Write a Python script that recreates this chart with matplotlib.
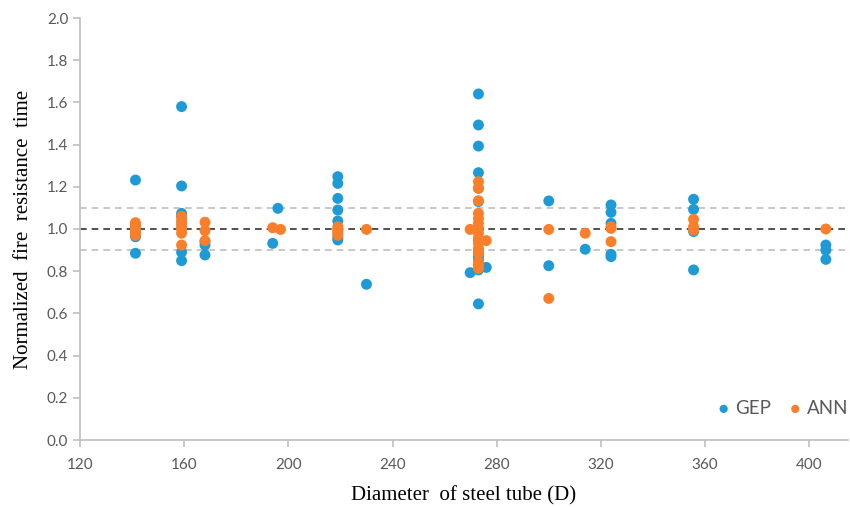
import matplotlib
matplotlib.use("Agg")
import matplotlib.pyplot as plt

# ---- data ----
gep_d = [141.3]*4 + [159]*6 + [168]*3 + [194, 196] + [219]*7 + [230, 269.8] + [273]*13 + [276] + [300]*2 + [314] + [323.9]*5 + [355.6]*4 + [406.4]*3
gep_r = [1.232, 0.885, 0.963, 0.975,
         1.58, 1.204, 1.074, 0.89, 0.85, 1.06,
         0.924, 0.877, 0.94,
         0.932, 1.098,
         1.248, 1.216, 1.145, 1.09, 1.038, 0.96, 0.948,
         0.738, 0.793,
         1.64, 1.493, 1.393, 1.267, 1.193, 1.13, 0.872, 0.855, 0.806, 0.645, 1.0, 0.95, 0.9,
         0.818,
         1.133, 0.826,
         0.904,
         1.114, 1.079, 1.027, 0.869, 0.88,
         1.141, 1.093, 0.988, 0.806,
         0.924, 0.9, 0.856]

ann_d = [141.3]*7 + [159]*7 + [168]*3 + [194, 197] + [219]*5 + [230, 269.8] + [273]*15 + [276] + [300]*2 + [314] + [323.9]*3 + [355.6]*3 + [406.4]
ann_r = [1.03, 1.02, 1.01, 1.0, 0.99, 0.98, 0.97,
         1.06, 1.04, 1.027, 1.01, 1.0, 0.98, 0.924,
         1.032, 0.992, 0.945,
         1.006, 0.998,
         1.01, 1.0, 0.99, 0.98, 0.97,
         0.998, 0.998,
         1.224, 1.193, 1.134, 1.074, 1.05, 1.027, 1.003, 0.98, 0.956, 0.932, 0.908, 0.885, 0.845, 0.829, 0.813,
         0.945,
         0.998, 0.671,
         0.98,
         1.003, 0.94, 1.01,
         1.046, 1.011, 0.995,
         1.0]

x_ticks = [120, 160, 200, 240, 280, 320, 360, 400]
y_ticks = [0.0, 0.2, 0.4, 0.6, 0.8, 1.0, 1.2, 1.4, 1.6, 1.8, 2.0]
ref_lines = [1.1, 1.0, 0.9]

# ---- figure ----
fig = plt.figure(figsize=(8.5, 5.07), dpi=100)
ax = fig.add_axes([80/850, 67/507, 768/850, 422/507])

c_gep = "#1E9BD7"
c_ann = "#FA7F2A"
ax.axhline(ref_lines[0], color="#BFBFBF", ls=(0, (4, 3)), lw=1.2, zorder=1)
ax.axhline(ref_lines[1], color="#333333", ls=(0, (4, 3)), lw=1.2, zorder=1)
ax.axhline(ref_lines[2], color="#BFBFBF", ls=(0, (4, 3)), lw=1.2, zorder=1)

ax.scatter(gep_d, gep_r, s=62, color=c_gep, edgecolors="none", label="GEP", zorder=3)
ax.scatter(ann_d, ann_r, s=62, color=c_ann, edgecolors="none", label="ANN", zorder=4)

ax.set_xlim(120, 414.9)
ax.set_ylim(0, 2.0)
ax.set_xticks(x_ticks)
ax.set_yticks(y_ticks)
ax.set_yticklabels([f"{v:.1f}" for v in y_ticks])

for s in ["top", "right"]:
    ax.spines[s].set_visible(False)
for s in ["left", "bottom"]:
    ax.spines[s].set_color("#BFBFBF")
    ax.spines[s].set_linewidth(1.2)
ax.tick_params(axis="both", colors="#BFBFBF", length=5, width=1.2, labelcolor="#595959", labelsize=11)
for lbl in ax.get_xticklabels() + ax.get_yticklabels():
    lbl.set_family("Lato")
ax.tick_params(axis="x", pad=8)

ax.set_xlabel("Diameter  of steel tube (D)", family="Liberation Serif", fontsize=15, color="black", labelpad=10)
ax.set_ylabel("Normalized  fire  resistance  time", family="Liberation Serif", fontsize=15, color="black", labelpad=10)

leg = ax.legend(loc="lower right", frameon=False, ncol=2, handletextpad=0.2, columnspacing=0.9,
                handlelength=0.8, markerscale=0.75, prop={"family": "Lato", "size": 13.5},
                bbox_to_anchor=(1.022, 0.015))
for t in leg.get_texts():
    t.set_color("#595959")

fig.savefig("out.png", dpi=100)
